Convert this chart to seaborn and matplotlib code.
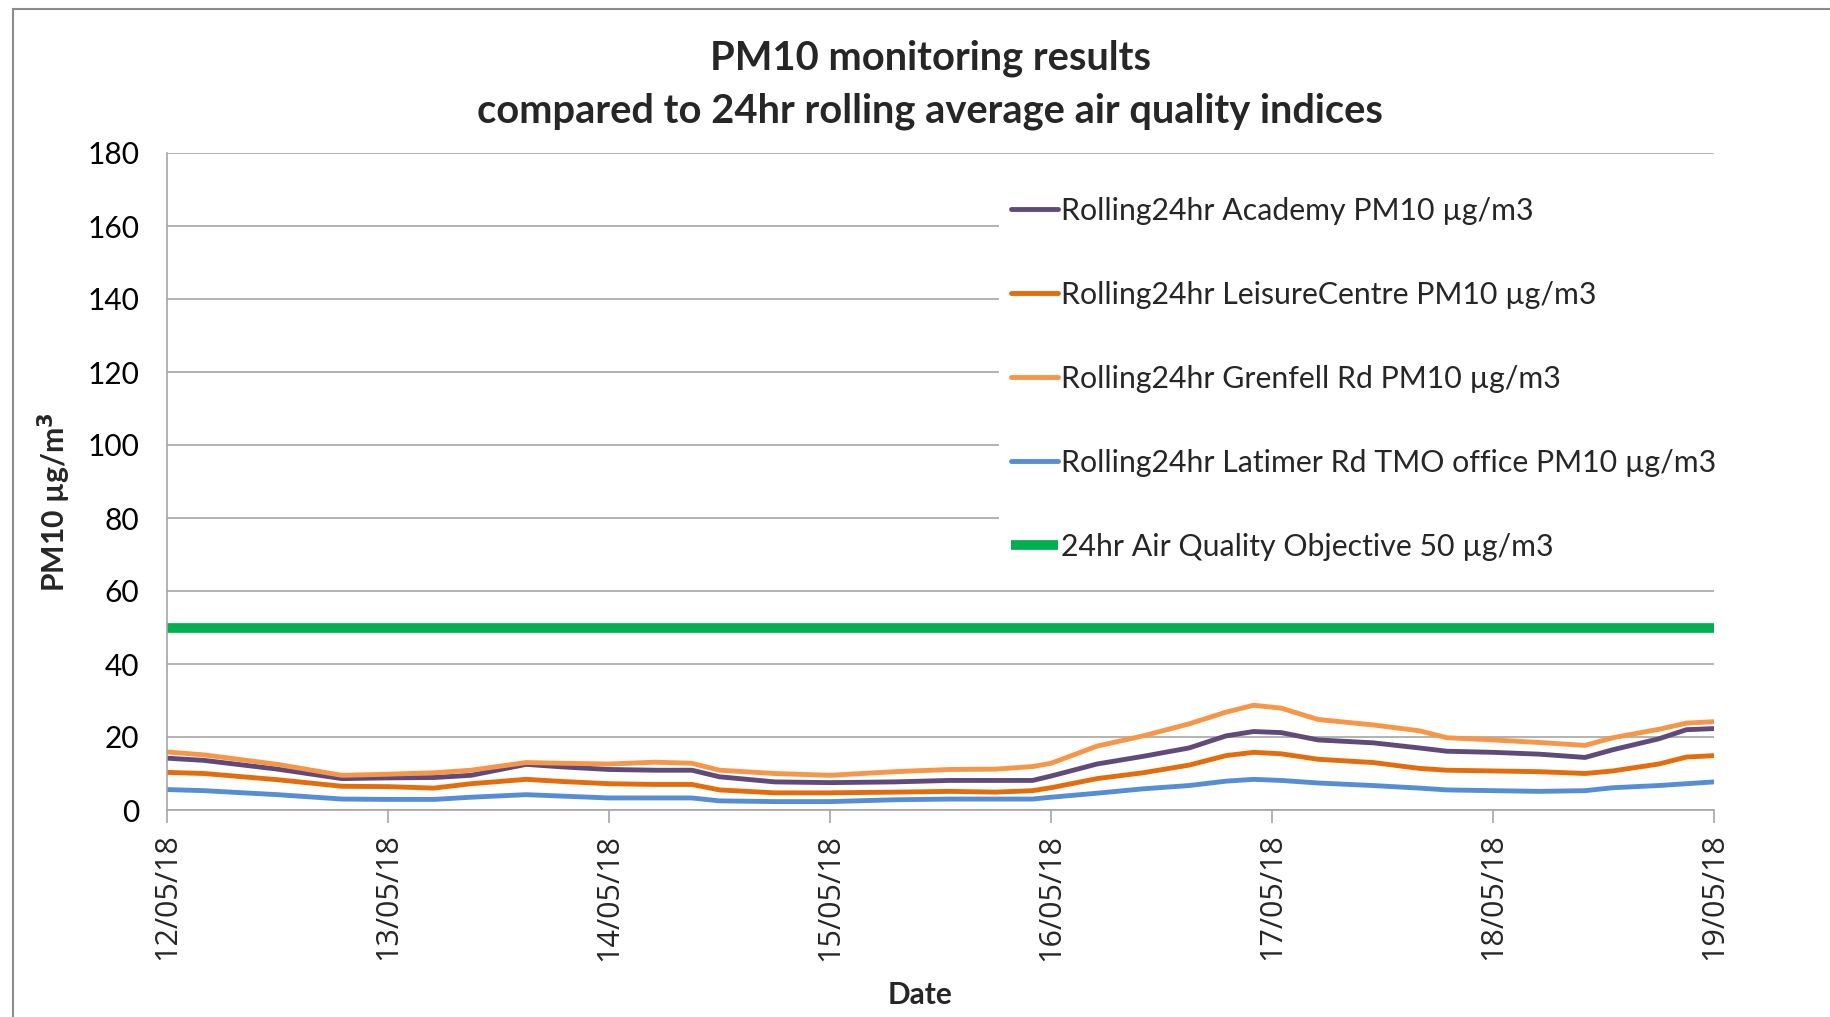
import numpy as np
import pandas as pd
import matplotlib
matplotlib.use("Agg")
import matplotlib.pyplot as plt
import matplotlib.dates as mdates
from matplotlib.patches import Rectangle
import seaborn as sns

# Hours since 12/05/18 00:00 at which readings are listed
hours = [0, 4, 12, 19, 24, 29, 33, 39, 43, 48, 53, 57, 60, 66, 72, 79, 85, 90,
         94, 96, 101, 106, 111, 115, 118, 121, 125, 131, 136, 139, 144, 149,
         154, 157, 162, 165, 168]

academy = [14.2, 13.6, 11.2, 8.6, 8.8, 8.9, 9.5, 12.5, 11.8, 11.1, 10.9, 10.9,
           9.1, 7.7, 7.5, 7.7, 8.1, 8.1, 8.1, 9.3, 12.6, 14.7, 17.0, 20.3, 21.5,
           21.2, 19.2, 18.4, 17.0, 16.1, 15.8, 15.3, 14.4, 16.5, 19.5, 22.0, 22.3]

leisure_centre = [10.3, 10.0, 8.3, 6.5, 6.4, 6.0, 7.2, 8.4, 7.8, 7.2, 7.0, 7.0,
                  5.5, 4.7, 4.7, 4.9, 5.1, 4.9, 5.3, 6.1, 8.6, 10.2, 12.3, 14.9,
                  15.8, 15.4, 13.9, 13.0, 11.4, 10.9, 10.7, 10.5, 10.0, 10.7,
                  12.6, 14.5, 14.9]

grenfell = [15.9, 15.1, 12.5, 9.5, 9.8, 10.2, 10.9, 13.0, 12.8, 12.6, 13.1, 12.8,
            10.9, 10.0, 9.5, 10.5, 11.1, 11.2, 11.9, 12.8, 17.5, 20.3, 23.6, 26.8,
            28.7, 27.9, 24.8, 23.3, 21.7, 19.8, 19.2, 18.5, 17.7, 19.8, 22.1,
            23.8, 24.2]

latimer = [5.6, 5.3, 4.2, 3.0, 2.9, 2.9, 3.5, 4.2, 3.8, 3.3, 3.3, 3.3, 2.5, 2.3,
           2.3, 2.8, 3.0, 3.0, 3.0, 3.5, 4.6, 5.8, 6.7, 7.9, 8.4, 8.1, 7.4, 6.7,
           6.0, 5.5, 5.3, 5.1, 5.3, 6.1, 6.7, 7.2, 7.7]

objective = 50

series_names = [
    "Rolling24hr Academy PM10 µg/m3",
    "Rolling24hr LeisureCentre PM10 µg/m3",
    "Rolling24hr Grenfell Rd PM10 µg/m3",
    "Rolling24hr Latimer Rd TMO office PM10 µg/m3",
]
objective_name = "24hr Air Quality Objective 50 µg/m3"
series_colors = ["#604A7B", "#E46C0A", "#F79646", "#558ED5"]
objective_color = "#00B050"

start = pd.Timestamp("2018-05-12")
times = start + pd.to_timedelta(hours, unit="h")

frames = []
for name, vals in zip(series_names, [academy, leisure_centre, grenfell, latimer]):
    frames.append(pd.DataFrame({"Date": times, "value": vals, "series": name}))
df = pd.concat(frames, ignore_index=True)

sns.set_theme(style="white")
plt.rcParams["font.family"] = ["Lato", "DejaVu Sans"]

fig = plt.figure(figsize=(18.31, 10.17), dpi=100)
ax = fig.add_axes([167 / 1831, 1 - 810 / 1017, 1547 / 1831, 657 / 1017])

sns.lineplot(data=df, x="Date", y="value", hue="series", hue_order=series_names,
             palette=dict(zip(series_names, series_colors)), linewidth=3.5,
             ax=ax, legend=True)
ax.axhline(objective, color=objective_color, linewidth=7, label=objective_name,
           solid_capstyle="butt")

ax.set_ylim(0, 180)
ax.set_yticks(np.arange(0, 181, 20))
ax.set_xlim(start, start + pd.Timedelta(days=7))
ax.xaxis.set_major_locator(mdates.DayLocator())
ax.xaxis.set_major_formatter(mdates.DateFormatter("%d/%m/%y"))

ax.grid(axis="y", color="#A6A6A6", linewidth=1.2)
ax.grid(axis="x", visible=False)
for side in ["top", "right"]:
    ax.spines[side].set_visible(False)
ax.spines["left"].set_color("#A6A6A6")
ax.spines["bottom"].set_color("#A6A6A6")
ax.spines["left"].set_linewidth(1.2)
ax.spines["bottom"].set_linewidth(1.2)

ax.tick_params(axis="y", length=0, labelsize=21.5, pad=20, colors="black")
ax.tick_params(axis="x", length=9, width=1.2, color="#A6A6A6", labelsize=22,
               pad=8, labelrotation=90, direction="out", bottom=True)
for lbl in ax.get_xticklabels():
    lbl.set_fontfamily(["Open Sans", "DejaVu Sans"])

ax.set_xlabel("Date", fontsize=21.5, fontweight="bold")
ax.xaxis.set_label_coords(0.487, -0.26)
ax.set_ylabel("PM10 µg/m$^{\\mathbf{3}}$", fontsize=21.7, fontweight="bold")
ax.yaxis.set_label_coords(-0.061, 0.469)

fig.text(0.508, 0.943, "PM10 monitoring results", ha="center", va="center",
         fontsize=28.7, fontweight="bold")
fig.text(0.508, 0.891, "compared to 24hr rolling average air quality indices",
         ha="center", va="center", fontsize=28.7, fontweight="bold")

handles, labels = ax.get_legend_handles_labels()
leg = ax.legend(handles, labels, loc="upper left",
                bbox_to_anchor=(0.5378, 0.5, 1 - 0.5378, 0.452), mode="expand",
                borderaxespad=0, fontsize=21.8, frameon=True,
                facecolor="white", edgecolor="none", framealpha=1,
                handlelength=1.55, handletextpad=0.1, labelspacing=1.85,
                borderpad=0.4, fancybox=False)
leg.set_zorder(5)

# Chart frame
fig.patches.append(Rectangle((13 / 1831, -0.05), 1.2, 1 - 9 / 1017 + 0.05,
                             transform=fig.transFigure, fill=False,
                             edgecolor="#8C8C8C", linewidth=1.5))

fig.savefig("out.png", dpi=100, facecolor="white")
